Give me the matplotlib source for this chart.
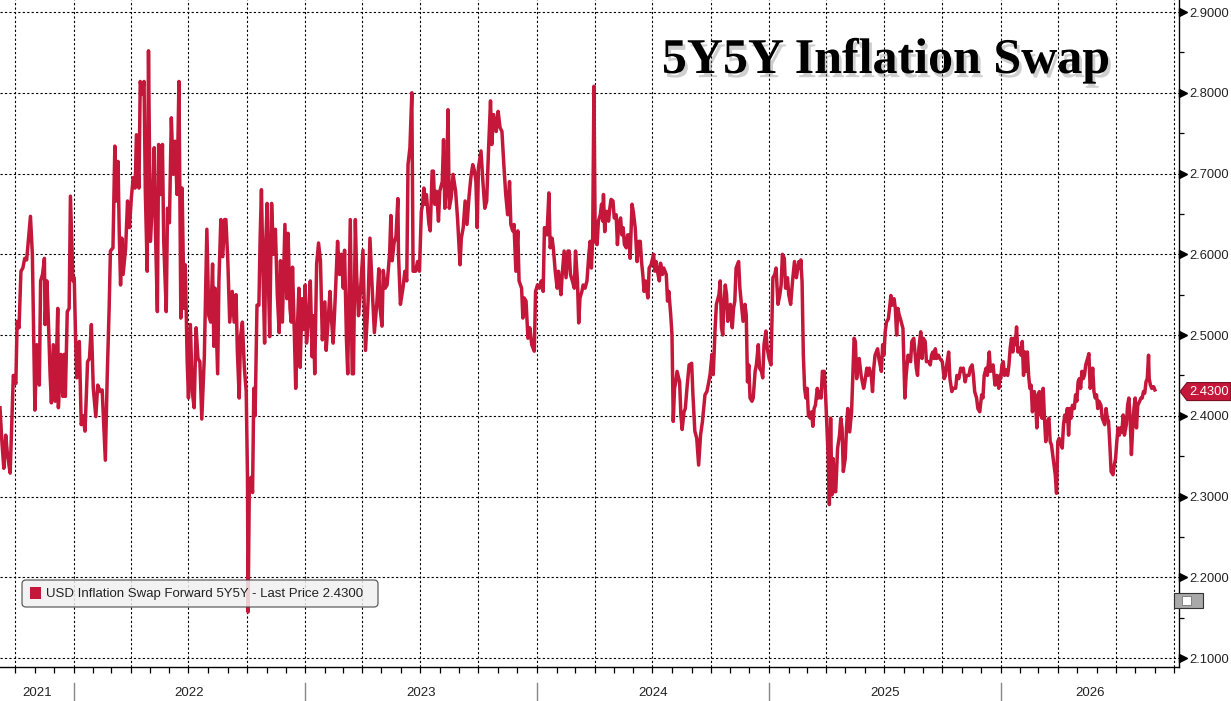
import matplotlib
matplotlib.use("Agg")
import matplotlib.pyplot as plt
import matplotlib.dates as mdates
import matplotlib.patheffects as pe
from matplotlib.patches import FancyBboxPatch, Polygon, Rectangle
from matplotlib.transforms import blended_transform_factory, ScaledTranslation, IdentityTransform
import numpy as np
import pandas as pd

# ---------------- data ----------------
start_date = "2021-09-07"
axis_end_day = 1858
last_price = 2.43

days_1 = [0,3,6,9,12,16,21,25,27,30, 33,36,39,42,45,48,51,55,58,62,
          64,67,70,71,74,77,79,81,84,87, 89,91,92,96,99,101,103,106,109,111,
          115,117,119,121,125,128,131,134,138,141, 144,147,151,154,158,161,166,169,172,174,
          178,181,183,186,188,190,192,194,198,201, 204,207,210,213,215,219,221,224,227,229,
          232,234,237,241,243,245,248,250,253,256, 258,262,264,267,270,273,276,279,282,285,
          287,290,292,295,297,300,303,306,309,312, 315]
vals_1 = [2.41,2.368,2.335,2.376,2.35,2.329,2.45,2.44,2.517,2.509,
          2.579,2.583,2.595,2.593,2.62,2.647,2.60,2.407,2.488,2.438,
          2.567,2.575,2.595,2.513,2.567,2.50,2.45,2.416,2.488,2.418,
          2.471,2.533,2.41,2.476,2.424,2.476,2.424,2.529,2.533,2.672,
          2.567,2.571,2.50,2.447,2.492,2.389,2.40,2.381,2.467,2.471,
          2.513,2.434,2.399,2.438,2.43,2.432,2.345,2.45,2.533,2.604,
          2.608,2.734,2.666,2.715,2.624,2.562,2.62,2.575,2.608,2.666,
          2.633,2.67,2.695,2.682,2.748,2.682,2.814,2.798,2.814,2.678,
          2.579,2.852,2.616,2.674,2.732,2.628,2.529,2.736,2.674,2.736,
          2.616,2.529,2.657,2.639,2.769,2.699,2.74,2.674,2.814,2.521,
          2.682,2.533,2.587,2.467,2.422,2.513,2.43,2.41,2.509,2.471,
          2.467]

days_2 = [318,322,326,329,332,335,337,339,343,345, 348,351,354,356,359,362,366,369,372,374,
          377,379,382,385,388,390,391,393,396,398, 400,402,405,408,410,412,415,417,419,421,
          423,425,428,431,434,437,440,442,445,449, 452,454,457,459,461,464,466,469,471,473,
          476,478,481,483,486,489,492,494,496,499, 502,505,508,512,514,517,520,522,525,528,
          532,535,538,541,543,546,548,552,555,557, 560,562,565,568,572,574,576,580,583,587,
          590,594,597,599,602,604,607,610,614,616, 618,621,624,627]
vals_2 = [2.396,2.473,2.631,2.524,2.516,2.588,2.486,2.558,2.452,2.567,
          2.643,2.597,2.643,2.643,2.592,2.516,2.554,2.516,2.55,2.481,
          2.422,2.498,2.516,2.46,2.43,2.324,2.157,2.32,2.324,2.305,
          2.434,2.40,2.537,2.537,2.622,2.68,2.558,2.49,2.618,2.663,
          2.567,2.498,2.663,2.60,2.631,2.55,2.503,2.592,2.516,2.637,
          2.545,2.626,2.533,2.516,2.584,2.498,2.434,2.516,2.558,2.46,
          2.545,2.507,2.562,2.49,2.516,2.567,2.473,2.524,2.452,2.588,
          2.614,2.592,2.494,2.541,2.481,2.516,2.554,2.524,2.49,2.541,
          2.616,2.575,2.60,2.558,2.605,2.494,2.452,2.643,2.452,2.452,
          2.643,2.575,2.524,2.554,2.605,2.537,2.481,2.541,2.62,2.55,
          2.503,2.541,2.582,2.533,2.511,2.58,2.558,2.562,2.601,2.648,
          2.592,2.614,2.622,2.669]

days_3 = [628,631,635,638,641,643,646,649,651,655, 658,661,664,666,668,670,672,676,678,681,
          683,685,688,691,693,697,699,701,704,706, 708,711,714,718,721,725,727,730,733,736,
          739,742,745,748,750,752,754,758,761,764, 767,770,773,775,778,782,785,788,791,794,
          797,800,803,805,808,810,813,816,818,822, 824,826,829,832,835,838,842,844,847,850,
          853,856,858,862,865,867,870,872,875,878, 880,884,886,889,892,895,897,899,902,905,
          907,910,912,914,917,919,922,925,928,930, 932,934,936,938,941,943,946]
vals_3 = [2.60,2.538,2.558,2.579,2.567,2.711,2.732,2.80,2.579,2.579,
          2.591,2.579,2.653,2.662,2.682,2.662,2.674,2.637,2.629,2.703,
          2.703,2.662,2.678,2.641,2.678,2.69,2.742,2.657,2.69,2.779,
          2.657,2.67,2.699,2.678,2.645,2.587,2.62,2.633,2.666,2.637,
          2.67,2.695,2.711,2.703,2.69,2.633,2.707,2.728,2.69,2.657,
          2.666,2.732,2.79,2.736,2.773,2.752,2.777,2.757,2.752,2.711,
          2.674,2.649,2.69,2.637,2.629,2.637,2.579,2.629,2.567,2.558,
          2.521,2.546,2.542,2.496,2.509,2.488,2.48,2.554,2.562,2.558,
          2.567,2.554,2.633,2.624,2.676,2.608,2.62,2.608,2.579,2.558,
          2.579,2.55,2.575,2.604,2.571,2.604,2.604,2.575,2.567,2.558,
          2.604,2.567,2.515,2.546,2.554,2.562,2.558,2.567,2.60,2.616,
          2.583,2.62,2.808,2.616,2.612,2.641,2.649]

days_4 = [948,950,951,953,955,957,959,961,963,966, 968,971,973,975,978,980,982,984,987,989,
          992,993,996,998,1001,1004,1007,1009,1011,1013, 1015,1017,1019,1021,1023,1026,1030,1032,1034,1037,
          1039,1041,1044,1046,1050,1052,1054,1057,1059,1061, 1063,1065,1067,1071,1073,1075,1078,1080,1083,1086,
          1090,1092,1095,1098,1101,1104,1107,1111,1114,1117, 1119,1122,1124,1127,1129,1133,1135,1137,1139,1141,
          1143,1145,1147,1149,1151,1154,1156,1158,1160,1164, 1166,1169,1171,1174,1176,1178,1180,1182,1185,1187,
          1190,1192,1195,1197,1200,1202,1204,1207,1209,1212, 1215,1218,1221,1223,1226,1229,1231,1233,1236,1238,
          1241,1243,1246,1249,1252,1255,1259,1261]
vals_4 = [2.662,2.641,2.674,2.628,2.653,2.653,2.641,2.657,2.668,2.666,
          2.645,2.649,2.612,2.637,2.645,2.624,2.633,2.612,2.608,2.624,
          2.624,2.595,2.662,2.653,2.633,2.591,2.616,2.616,2.591,2.575,
          2.554,2.567,2.558,2.546,2.583,2.587,2.60,2.579,2.591,2.575,
          2.567,2.589,2.575,2.583,2.575,2.542,2.554,2.525,2.50,2.393,
          2.434,2.442,2.455,2.442,2.401,2.383,2.405,2.409,2.438,2.463,
          2.465,2.426,2.381,2.372,2.339,2.376,2.393,2.426,2.43,2.442,
          2.451,2.476,2.451,2.509,2.538,2.55,2.567,2.509,2.50,2.542,
          2.562,2.55,2.517,2.533,2.538,2.509,2.533,2.542,2.583,2.591,
          2.558,2.533,2.517,2.538,2.525,2.442,2.463,2.422,2.418,2.422,
          2.455,2.463,2.488,2.459,2.455,2.447,2.488,2.505,2.484,2.471,
          2.463,2.571,2.575,2.583,2.538,2.55,2.562,2.60,2.595,2.558,
          2.571,2.55,2.538,2.567,2.591,2.571,2.591,2.583]

days_5 = [1262,1264,1266,1268,1270,1272,1274,1277,1279,1281, 1283,1285,1288,1290,1292,1294,1296,1299,1301,1303,
          1305,1307,1309,1311,1313,1315,1317,1320,1323,1325, 1327,1329,1332,1334,1336,1339,1342,1344,1346,1348,
          1350,1352,1354,1357,1361,1363,1366,1368,1370,1373, 1375,1377,1379,1383,1385,1387,1389,1391,1393,1395,
          1397,1400,1404,1406,1409,1411,1413,1415,1417,1419, 1423,1426,1428,1431,1433,1435,1437,1440,1444,1446,
          1448,1451,1453,1455,1458,1460,1464,1466,1468,1470, 1472,1474,1476,1479,1481,1485,1488,1490,1492,1495,
          1497,1500,1502,1506,1508,1511,1514,1516,1518,1521, 1523,1527,1529,1532,1534,1536,1539,1541,1544,1547,
          1549,1551,1554,1556,1559,1561,1563,1565,1568,1571, 1574,1576]
vals_5 = [2.593,2.566,2.475,2.434,2.422,2.434,2.40,2.397,2.405,2.387,
          2.409,2.413,2.434,2.422,2.43,2.422,2.455,2.455,2.426,2.389,
          2.352,2.29,2.397,2.302,2.347,2.306,2.306,2.36,2.376,2.397,
          2.385,2.331,2.347,2.385,2.409,2.38,2.405,2.45,2.496,2.492,
          2.446,2.463,2.471,2.45,2.434,2.442,2.459,2.45,2.459,2.45,
          2.43,2.459,2.475,2.483,2.471,2.463,2.455,2.488,2.475,2.504,
          2.516,2.52,2.549,2.537,2.545,2.533,2.50,2.533,2.525,2.52,
          2.508,2.422,2.45,2.475,2.471,2.467,2.492,2.496,2.459,2.45,
          2.483,2.504,2.471,2.496,2.492,2.467,2.467,2.463,2.475,2.479,
          2.471,2.483,2.471,2.475,2.471,2.467,2.446,2.45,2.463,2.479,
          2.446,2.43,2.434,2.434,2.45,2.446,2.459,2.455,2.459,2.442,
          2.45,2.45,2.459,2.463,2.45,2.43,2.422,2.409,2.405,2.426,
          2.422,2.45,2.459,2.45,2.479,2.455,2.459,2.463,2.438,2.45,
          2.434,2.45]

days_6 = [1577,1579,1581,1583,1585,1588,1590,1592,1594,1596, 1598,1600,1602,1604,1606,1609,1611,1613,1615,1617,
          1619,1621,1623,1625,1627,1630,1632,1634,1636,1638, 1640,1642,1644,1646,1648,1651,1653,1655,1657,1659,
          1661,1663,1665,1667,1669,1672,1674,1676,1678,1680, 1682,1684,1686,1688,1690,1693,1695,1697,1699,1701,
          1703,1705,1707,1709,1711,1714,1716,1718,1720,1722, 1724,1726,1728,1730,1732,1735,1737,1739,1741,1743,
          1745,1747,1749,1751,1754,1756,1758,1760,1762,1764, 1766,1768,1770,1772,1775,1777,1779,1781,1783,1785,
          1787,1789,1791,1793,1796,1798,1800,1802,1804,1806, 1808,1810,1811,1813,1815,1818,1820]
vals_6 = [2.446,2.463,2.467,2.45,2.457,2.45,2.463,2.484,2.496,2.479,
          2.496,2.488,2.51,2.479,2.484,2.475,2.492,2.45,2.479,2.455,
          2.479,2.45,2.434,2.438,2.405,2.43,2.418,2.385,2.426,2.43,
          2.401,2.397,2.434,2.397,2.368,2.393,2.397,2.368,2.364,2.352,
          2.339,2.327,2.304,2.368,2.372,2.364,2.36,2.389,2.401,2.393,
          2.409,2.376,2.409,2.397,2.413,2.409,2.426,2.418,2.442,2.446,
          2.434,2.455,2.446,2.45,2.463,2.471,2.477,2.434,2.442,2.459,
          2.43,2.422,2.426,2.409,2.418,2.413,2.397,2.393,2.389,2.409,
          2.397,2.393,2.364,2.331,2.327,2.339,2.347,2.368,2.385,2.376,
          2.385,2.38,2.401,2.376,2.389,2.413,2.422,2.397,2.352,2.385,
          2.409,2.422,2.385,2.413,2.418,2.422,2.422,2.43,2.428,2.442,
          2.446,2.475,2.446,2.438,2.434,2.436,2.432]

y_ticks = [2.1, 2.2, 2.3, 2.4, 2.5, 2.6, 2.7, 2.8, 2.9]
year_labels = ["2021", "2022", "2023", "2024", "2025", "2026"]
title_text = "5Y5Y Inflation Swap"
legend_text = "USD Inflation Swap Forward 5Y5Y - Last Price 2.4300"

# ---------------- styling ----------------
RED = "#c4173a"
W, H = 1231, 701
TICK_FONT = ["Liberation Sans", "DejaVu Sans"]

days = np.concatenate([days_1, days_2, days_3, days_4, days_5, days_6])
vals = np.concatenate([vals_1, vals_2, vals_3, vals_4, vals_5, vals_6])
t0 = pd.Timestamp(start_date)
dates = t0 + pd.to_timedelta(days, unit="D")
t_end = t0 + pd.Timedelta(days=axis_end_day)

fig = plt.figure(figsize=(W / 100, H / 100), dpi=100)
ax = fig.add_axes([0, 34 / H, 1179 / W, 667 / H])

ax.plot(dates, vals, color=RED, lw=2.5, solid_joinstyle="round", zorder=3)

ax.set_xlim(t0, t_end)
ax.set_ylim(2.0889, 2.9149)

# spines
for s in ("top", "left"):
    ax.spines[s].set_visible(False)
for s in ("right", "bottom"):
    ax.spines[s].set_color("black")
    ax.spines[s].set_linewidth(1.0)

# y axis on the right
ax.yaxis.tick_right()
ax.set_yticks(y_ticks)
ax.set_yticklabels([f"{v:.4f}" for v in y_ticks], fontsize=9.3, family=TICK_FONT, color="#222222")
ax.yaxis.set_minor_locator(matplotlib.ticker.FixedLocator([v + 0.05 for v in y_ticks]))
ax.tick_params(axis="y", which="major", length=0, pad=7.5)
ax.tick_params(axis="y", which="minor", length=3.5, width=0.9, color="black", direction="out")

# x axis: quarterly grid, monthly ticks, no tick labels
ax.xaxis.set_major_locator(mdates.MonthLocator(bymonth=[1, 4, 7, 10]))
ax.xaxis.set_minor_locator(mdates.MonthLocator())
ax.tick_params(axis="x", which="both", length=4, width=0.9, color="black", direction="out", labelbottom=False)

ax.grid(True, which="major", color="black", linestyle=(0, (2, 2)), linewidth=0.8, zorder=1)

# triangle markers at major y ticks
tri_tr = blended_transform_factory(ax.transAxes, ax.transData) + ScaledTranslation(4 / 100, 0, fig.dpi_scale_trans)
ax.plot(np.ones(len(y_ticks)), y_ticks, ls="none", marker=">", ms=5.5, color="black",
        transform=tri_tr, clip_on=False, zorder=5)

# year labels and separators
xb = blended_transform_factory(ax.transData, ax.transAxes)
for i, lab in enumerate(year_labels):
    yr = int(lab)
    a = max(pd.Timestamp(f"{yr}-01-01"), t0)
    b = min(pd.Timestamp(f"{yr + 1}-01-01"), t_end)
    mid = a + (b - a) / 2
    ax.text(mdates.date2num(mid), -26 / 667, lab, transform=xb, ha="center", va="center",
            fontsize=9.5, family=TICK_FONT, color="#222222")
    if pd.Timestamp(f"{yr}-01-01") > t0:
        xs = mdates.date2num(pd.Timestamp(f"{yr}-01-01"))
        ax.plot([xs, xs], [-16 / 667, -34 / 667], transform=xb, color="#888888", lw=1.0, clip_on=False)

# title with soft shadow
fig.text(1110 / W, (H - 73) / H, title_text, ha="right", va="baseline",
         family=["Liberation Serif", "DejaVu Serif"], weight="bold", fontsize=36, color="black",
         path_effects=[pe.withSimplePatchShadow(offset=(2, -3), shadow_rgbFace="#777777", alpha=0.35)],
         zorder=10)

# legend box (pixel coordinates)
ident = IdentityTransform()
leg = FancyBboxPatch((22, H - 607), 356, 27, boxstyle="round,pad=0,rounding_size=4",
                     transform=ident, facecolor="#f0f0f0", edgecolor="#444444", lw=0.9, alpha=0.85, zorder=20)
fig.add_artist(leg)
fig.add_artist(Rectangle((30, H - 599), 11, 12, transform=ident, facecolor=RED, edgecolor="none", zorder=21))
fig.text(46 / W, (H - 593.5) / H, legend_text, ha="left", va="center", fontsize=9.5,
         family=TICK_FONT, color="#222222", zorder=22)

# last price tag
fig.canvas.draw()
y_pix = ax.transData.transform((mdates.date2num(t0), last_price))[1]
tag = Polygon([(1180, y_pix), (1187, y_pix + 9), (1231, y_pix + 9), (1231, y_pix - 9), (1187, y_pix - 9)],
              closed=True, transform=ident, facecolor=RED, edgecolor="#7a0f22", lw=0.8, zorder=20)
fig.add_artist(tag)
fig.text(1209 / W, y_pix / H, f"{last_price:.4f}", ha="center", va="center", fontsize=9.3,
         family=TICK_FONT, color="white", zorder=21)

# small gray chart-type icon
fig.add_artist(Rectangle((1174, H - 608), 29, 15, transform=ident, facecolor="#a9a9a9",
                         edgecolor="#333333", lw=0.8, zorder=20))
fig.add_artist(Rectangle((1182, H - 605), 9, 9, transform=ident, facecolor="white",
                         edgecolor="#777777", lw=0.6, zorder=21))

fig.savefig("out.png", dpi=100)
